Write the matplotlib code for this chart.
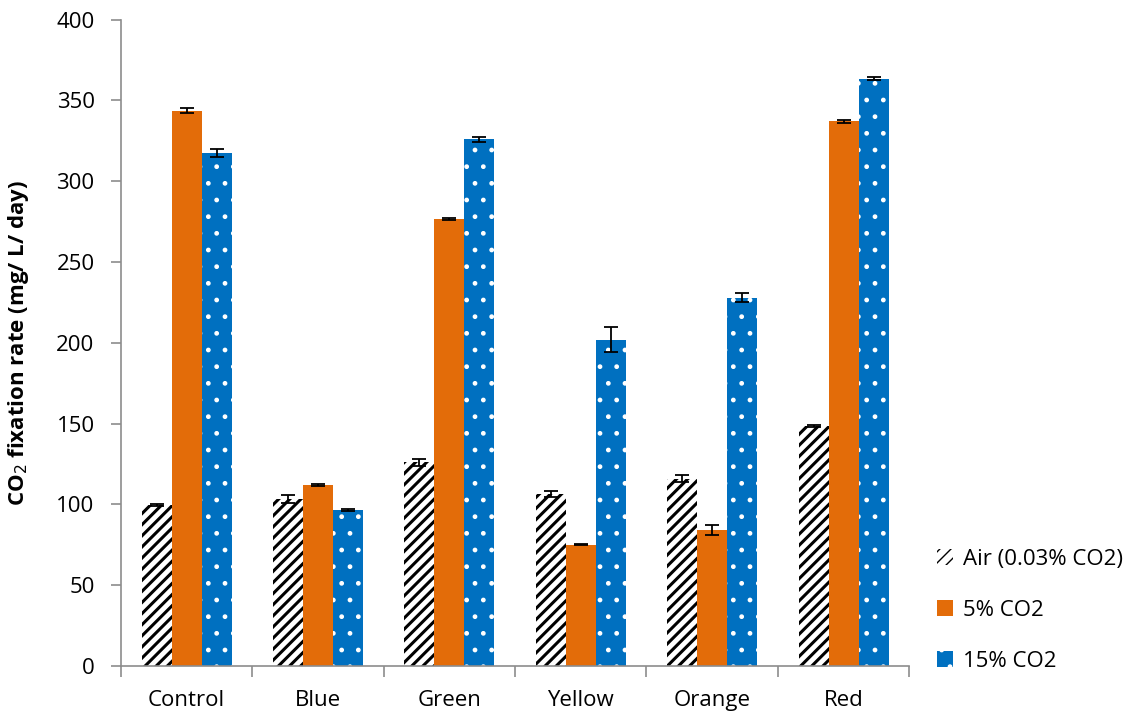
import matplotlib
matplotlib.use("Agg")
import matplotlib.pyplot as plt
import numpy as np

categories = ["Control", "Blue", "Green", "Yellow", "Orange", "Red"]
air = [99.5, 103.5, 126, 106.5, 116, 148.5]
air_err = [0.5, 2.5, 2, 2, 2, 0.5]
co2_5 = [343.5, 112, 276.5, 75, 84, 337]
co2_5_err = [1.5, 0.5, 0.5, 0.3, 3, 1]
co2_15 = [317.5, 96.5, 326, 202, 228, 363.5]
co2_15_err = [2.5, 0.5, 1.5, 7.5, 3, 1]

plt.rcParams["font.family"] = ["Open Sans", "DejaVu Sans"]
fs = 16

fig = plt.figure(figsize=(11.38, 7.15), dpi=100)
ax = fig.add_axes([0.1063, 0.0685, 0.6927, 0.9042])

x = np.arange(len(categories))
w = 0.2285
err_kw = dict(ecolor="black", capsize=5, elinewidth=1.3, capthick=1.3)

with plt.rc_context({"hatch.linewidth": 2.2}):
    ax.bar(x - w, air, w, yerr=air_err, color="white", edgecolor="black",
           hatch="///", linewidth=0, label="Air (0.03% CO2)", error_kw=err_kw)
ax.bar(x, co2_5, w, yerr=co2_5_err, color="#E36C09", linewidth=0,
       label="5% CO2", error_kw=err_kw)
with plt.rc_context({"hatch.linewidth": 1.0}):
    ax.bar(x + w, co2_15, w, yerr=co2_15_err, color="#0070C0", edgecolor="white",
           hatch=".", linewidth=0, label="15% CO2", error_kw=err_kw)

ax.set_xlim(-0.5, len(categories) - 0.5)
ax.set_ylim(0, 400)
ax.set_yticks(range(0, 401, 50))

# category boundaries as ticks, labels in the middle
ax.set_xticks(np.arange(-0.5, len(categories), 1))
ax.set_xticklabels([])
ax.set_xticks(x, minor=True)
ax.set_xticklabels(categories, minor=True)
ax.tick_params(axis="x", which="major", length=8, color="#8c8c8c", width=1.2)
ax.tick_params(axis="x", which="minor", length=0, pad=17, labelsize=fs)
ax.tick_params(axis="y", length=7, color="#8c8c8c", width=1.2, labelsize=fs, pad=12)

for s in ["top", "right"]:
    ax.spines[s].set_visible(False)
for s in ["left", "bottom"]:
    ax.spines[s].set_color("#8c8c8c")
    ax.spines[s].set_linewidth(1.2)

ax.set_ylabel("CO$_2$ fixation rate (mg/ L/ day)", fontsize=fs, fontweight="bold", labelpad=18)

ax.legend(loc="lower left", bbox_to_anchor=(1.01, -0.04), frameon=False,
          fontsize=fs, handlelength=0.7, handleheight=0.7, handletextpad=0.45,
          labelspacing=1.35)

fig.savefig("out.png", dpi=100)
